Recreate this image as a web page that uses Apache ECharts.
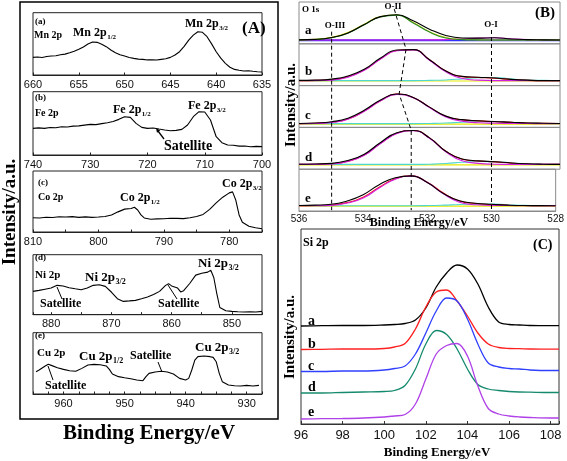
<!DOCTYPE html>
<html><head><meta charset="utf-8">
<script src="https://cdn.jsdelivr.net/npm/echarts@6/dist/echarts.min.js"></script>
<style>html,body{margin:0;padding:0;background:#fff}#c{width:567px;height:461px}</style>
</head><body><div id="c"></div>
<script>
// ---------- Panel A data (XPS 2p spectra) ----------
const mnEnergy = [660,659.5,659,658.5,658,657.5,657,656.5,656,655.5,655,654.5,654,653.5,653,652.5,652,651.5,651,650.5,650,649.5,649,648.5,648,647.5,647,646.5,646,645.5,645,644.5,644,643.5,643,642.5,642,641.5,641,640.5,640,639.5,639,638.5,638,637.5,637,636.5,636,635.5,635];
const mnIntensity = [28.3,28.8,28.0,29.6,30.5,31.0,32.4,33.5,35.8,38.2,41.2,45.0,49.7,52.9,52.4,49.5,45.5,40.2,35.8,32.6,30.5,28.0,26.7,25.5,25.1,24.2,24.6,24.0,25.1,26.0,28.3,32.0,37.4,46.0,56.0,64.0,69.5,68.5,61.5,50.0,37.4,27.0,18.7,12.5,9.0,7.6,6.4,6.9,5.9,5.2,4.8];
const feEnergy = [740,739,738,737,736,735,734,733,732,731,730,729,728,727,726,725,724,723,722,721,720,719,718,717,716,715,714,713,712,711,710,709,708,707,706,705,704,703,702,701,700];
const feIntensity = [42.1,42.8,42.0,43.5,43.0,44.7,44.2,45.6,46.0,47.2,48.4,48.0,49.5,51.0,53.0,56.3,60.5,59.5,50.0,43.7,42.1,42.6,41.0,39.5,38.4,38.9,40.5,47.4,60.5,68.4,67.9,55.3,28.9,19.5,15.8,15.3,14.0,14.2,13.0,13.6,13.2];
const coEnergy = [810,809,808,807,806,805,804,803,802,801,800,799,798,797,796,795,794.5,794,793.5,793,792,791,790,789,788,787,786,785,784,783,782,781,780,779.5,779,778.5,778,777,776,775];
const coIntensity = [23.4,23.0,24.2,23.8,25.0,24.5,25.2,24.0,24.8,23.9,24.5,25.5,28.0,33.0,37.5,38.6,40.5,36.0,28.0,23.0,21.0,21.5,21.7,22.6,22.3,22.0,23.4,25.5,28.8,37.0,47.8,57.1,64.1,65.8,52.0,28.0,16.0,9.5,7.0,5.4];
const niEnergy = [883,882,881,880,879,878,877,876,875,874,873,872,871,870,869,868,867,866,865,864,863,862,861,860.5,860,859,858.5,858,857,856,855,854,853.5,853,852.5,852,851,850,849,848,847,846,845];
const niIntensity = [38.9,40.5,42.5,44.4,48.9,47.8,45.0,43.3,41.7,44.4,48.9,50.0,47.2,37.8,26.7,22.2,23.0,23.9,26.5,29.4,33.5,38.9,48.9,51.7,48.0,44.4,38.0,40.0,52.0,66.0,69.0,71.0,74.0,62.0,35.0,12.0,6.5,5.6,4.8,4.4,5.0,4.6,5.6];
const cuEnergy = [964.5,964,963,962.5,962,961,960,959,958,957,956,955,954,953,952.5,952,951,950,949,948,947,946.5,946,945,944,943,942,941,940,939.5,939,938.5,938,937,936,935.5,935,934.5,934,933,932,931,930,929,928];
const cuIntensity = [36.4,39.1,45.7,48.4,46.7,42.9,40.2,38.0,37.0,41.8,47.3,48.4,47.8,45.7,40.2,32.6,28.3,26.6,25.0,22.8,21.7,28.3,33.7,35.9,37.0,35.9,32.6,25.5,22.8,25.5,39.1,55.4,60.9,62.0,60.9,59.8,52.7,33.7,20.1,14.7,13.5,13.0,14.0,13.0,14.1];

// ---------- Panel B data (O 1s, fitted) ----------
const oxEnergy = [536,535.5,535,534.5,534,533.5,533,532.5,532,531.5,531,530.5,530,529.5,529,528.5,528];
const baseEnergy = [536,528];
const aBlack   = [9.5,10.5,15,26,46,65,69.5,55,35,20,14,13.5,14.5,11.5,10,9.5,9];
const aYellow  = [9.5,10.5,15.5,27,47,65.5,69,51,29,15,10.5,9.5,9.2,9,9,9,9];
const aGreen   = [9.3,10.2,14.5,25.5,45.5,64.5,68.5,50,28,14,10,9.3,9,9,9,9,9];
const aMagenta = [9,9,9,9,9,9,9,9,9.3,10,11.5,13.5,14.5,12,10,9.2,9];
const aBase    = [8.5,8.5];
const bBlack   = [12.5,13,15.5,23,39,66,85,86,62,35,22,20,18,15,13,12,12];
const bRed     = [12,12.5,14,21,37,64,84,86,62,35,21.5,19.5,17.5,14.5,12.5,12,12];
const bMagenta = [12,12,13,20,36.5,63.5,83.5,85.5,60.5,33,17,13,12,12,12,12,12];
const bCyan    = [12,12,12,12,12,12,12,12,12.5,13.5,16,19,19.5,16,13.5,12.5,12];
const bBase    = [11,11];
const cBlack   = [9.5,10.5,13.5,22,41,65.5,80,71.5,48.5,27,18.5,16,14,12.5,10.5,10,9.5];
const cRed     = [9,10,12.5,20,39,64,79.5,71.5,48.5,26.5,18,15.5,13.5,12,10.5,9.8,9.5];
const cMagenta = [9,9.5,12,19.5,38.5,63.5,79,71,47.5,25,15,11,10,9.5,9.2,9,9];
const cCyan    = [9,9,9,9,9,9,9,9,9.5,10.5,12.5,14,13.5,12,10.5,9.5,9];
const cBase    = [8,8];
const dBlack   = [12,12.5,14,21,36,64,87,92.5,75,43,24.5,20,18,15,13,12,11.5];
const dRed     = [11.5,12,13,19,34,62,86,92.5,75,43,24,19.5,17.5,14.5,12.5,11.8,11.5];
const dMagenta = [11.5,11.5,12.5,18.5,33.5,61.5,85.5,92,74,41.5,20,14,12,11.5,11.5,11.5,11.5];
const dCyan    = [11.5,11.5,11.5,11.5,11.5,11.5,11.5,11.5,12,13.5,16.5,18.5,18,15,13,12,11.5];
const dBase    = [10.5,10.5];
const eBlack   = [13,14,16,24,39,63,79.5,84,68,42,24.5,18.5,16,14,13,12.8,12.6];
const eRed     = [12.6,13,14.5,20,33,57,77,84,69,43,24,18,15.5,13.8,13,12.7,12.6];
const eMagenta = [12.6,12.8,13.5,19,31,55,76,83.5,68,41,21,15,13.5,13,12.7,12.6,12.6];
const eCyan    = [12.6,12.6,12.6,12.6,12.6,12.6,12.6,12.6,13,14,15.5,16.5,16.5,15,13.5,12.8,12.6];
const eBase    = [11.5,11.5];
// guide lines (energy, stack level 0..5)
const oIIIEnergy = [535.0,535.0], oIIILevel = [4.29,0.02];
const oIEnergy = [530.1,530.1],   oILevel = [4.33,0.02];
const oIIEnergy = [533.08,532.72,532.93,532.56,532.56], oIILevel = [4.83,3.87,2.8,1.93,0.02];

// ---------- Panel C data (Si 2p) ----------
const siEnergy = [96,97,98,99,100,100.5,101,101.5,102,102.5,103,103.5,104,104.5,105,105.5,106,106.5,107,108,108.4];
const siA = [98,98.3,98.5,98.5,99,99.5,100.5,104,116,137,151,159,155,140,117,102,99.5,99,98.5,98.3,98.3];
const siB = [74.5,74.7,75,75,75.5,77,80.5,95,117,132,134,123,108,91,80,76.5,75.5,75.3,75,74.8,74.8];
const siC = [52.5,52.5,53,53,54,55.5,58,70,91,113,126,123,105,80,61,57,55.5,55,54,53.5,53.5];
const siD = [31,31,31.5,32,32.5,33.5,38.5,55,80,93.5,89.5,75,55,39.5,35,33.5,32.5,32,31.8,31.5,31.5];
const siE = [5,5.3,5.5,6,7,8,9.5,20,45,70,78.5,80.5,68,38,15.5,10,8,7,6.5,6,6];

// ---------- helpers ----------
function pairs(xs, ys){ const n=Math.min(xs.length, ys.length), o=[]; for(let i=0;i<n;i++) o.push([xs[i], ys[i]]); return o; }
const SERIF = '"Liberation Serif","Times New Roman",serif';
const SANS = '"Liberation Sans",Arial,sans-serif';
const grids=[], xAxes=[], yAxes=[], series=[], graphics=[];
function addGrid(g, xa, ya){ grids.push(g); const i=grids.length-1; xAxes.push(Object.assign({gridIndex:i, type:'value', splitLine:{show:false}}, xa)); yAxes.push(Object.assign({gridIndex:i, type:'value', show:false, splitLine:{show:false}}, ya)); return i; }
function line(i, data, color, width, smooth, z, dash){ series.push({type:'line', xAxisIndex:i, yAxisIndex:i, data, symbol:'none', showSymbol:false, smooth: smooth||false, silent:true, animation:false, z: z||2, lineStyle:{color, width, type: dash||'solid'}}); }
const mctx = document.createElement('canvas').getContext('2d');
function tw(t, size){ mctx.font = 'bold '+size+'px '+SERIF; return mctx.measureText(t).width; }
function txt(x, y, t, size, align, rot){ graphics.push({type:'text', x, y, rotation: rot||0, z:100, style:{text:t, font:'bold '+size+'px '+SERIF, fill:'#000', align: align||'left', verticalAlign:'middle'}}); }
function sub(x, y, main, s, size){ txt(x, y, main, size); const ss=Math.round(size*0.62); graphics.push({type:'text', x: x+tw(main,size)+0.5, y: y+size*0.32, z:100, style:{text:s, font:'bold '+ss+'px '+SERIF, fill:'#000', align:'left', verticalAlign:'middle'}}); }
function seg(x1,y1,x2,y2,w){ graphics.push({type:'line', z:100, shape:{x1,y1,x2,y2}, style:{stroke:'#000', lineWidth:w||1}}); }

// ---------- Panel A grids ----------
const aPanels = [
  {top:12.7, h:62.3, min:635, max:660, interval:5, every:5, x:mnEnergy, y:mnIntensity},
  {top:91.7, h:63.3, min:700, max:740, interval:10, every:10, x:feEnergy, y:feIntensity},
  {top:171,  h:61,   min:775, max:810, interval:5, every:10, x:coEnergy, y:coIntensity},
  {top:254.7,h:60,   min:845, max:883, interval:5, every:10, x:niEnergy, y:niIntensity},
  {top:332.7,h:61.3, min:927.5, max:965, interval:2.5, every:10, x:cuEnergy, y:cuIntensity}
];
aPanels.forEach(p=>{
  const i = addGrid({left:33, top:p.top, width:229, height:p.h, show:true, borderColor:'#222', borderWidth:1},
    {inverse:true, min:p.min, max:p.max, interval:p.interval,
     axisLine:{show:true, onZero:false, lineStyle:{color:'#222', width:1}},
     axisTick:{show:true, inside:true, length:2.5, lineStyle:{color:'#222'}},
     axisLabel:{fontFamily:SANS, fontSize:11, color:'#111', margin:4,
       formatter: v => (Math.abs(v % p.every) < 1e-6 ? String(v) : '')}},
    {min:0, max:100});
  line(i, pairs(p.x, p.y), '#000', 1.1, false, 3);
});

// ---------- Panel B grids ----------
const bSets = [
  [[aBase,'#3030ff',1.8,true],[aMagenta,'#e020e0'],[aYellow,'#d8d800'],[aGreen,'#2a8a2a'],[aBlack,'#000']],
  [[bBase,'#e8e800',1.2,true],[bCyan,'#50d8d0'],[bRed,'#ff1010'],[bMagenta,'#d020e0'],[bBlack,'#000']],
  [[cBase,'#e8e800',1.2,true],[cCyan,'#50d8d0'],[cRed,'#ff1010'],[cMagenta,'#d020e0'],[cBlack,'#000']],
  [[dBase,'#e8e800',1.2,true],[dCyan,'#50d8d0'],[dRed,'#ff1010'],[dMagenta,'#d020e0'],[dBlack,'#000']],
  [[eBase,'#e8e800',1.2,true],[eCyan,'#50d8d0'],[eRed,'#ff1010'],[eMagenta,'#d020e0'],[eBlack,'#000']]
];
bSets.forEach((set, k)=>{
  const last = k===4;
  const i = addGrid({left:299, top:2+k*41.8, width:261, height:41.8, show:true, borderColor:'#8a8a8a', borderWidth:1},
    {inverse:true, min:528, max:536, interval:2,
     axisLine:{show:last, onZero:false, lineStyle:{color:'#8a8a8a'}},
     axisTick:{show:false},
     axisLabel:{show:last, fontFamily:SANS, fontSize:10, color:'#111', margin:3}},
    {min:0, max:100});
  set.forEach(s=>{
    const xs = s[3] ? baseEnergy : oxEnergy;
    line(i, pairs(xs, s[0]), s[1], s[2]||1.1, true, 3);
  });
});
// overlay for dashed guides
const ov = addGrid({left:299, top:2, width:261, height:209, show:false},
  {inverse:true, min:528, max:536, show:false}, {min:0, max:5});
line(ov, pairs(oIIIEnergy, oIIILevel), '#000', 1, false, 5, [4,3]);
line(ov, pairs(oIEnergy, oILevel), '#000', 1, false, 5, [4,3]);
line(ov, pairs(oIIEnergy, oIILevel), '#000', 1, false, 5, [4,3]);

// ---------- Panel C grid ----------
const ci = addGrid({left:301, top:229, width:258, height:195, show:true, borderColor:'#333', borderWidth:1},
  {min:96, max:108.4, interval:2,
   axisLine:{show:true, onZero:false, lineStyle:{color:'#333'}},
   axisTick:{show:true, inside:true, length:3, lineStyle:{color:'#333'}},
   axisLabel:{fontFamily:SANS, fontSize:13, color:'#111', margin:5,
     formatter: v => (Math.abs(v % 2) < 1e-6 ? String(v) : '')}},
  {min:0, max:195});
[[siA,'#000'],[siB,'#ff2020'],[siC,'#3040ff'],[siD,'#168a6e'],[siE,'#b040e8']].forEach(s=>{
  line(ci, pairs(siEnergy, s[0]), s[1], 1.3, 0.35, 3);
});

// ---------- annotations ----------
graphics.push({type:'rect', z:100, shape:{x:20, y:2, width:258, height:417}, style:{fill:'none', stroke:'#000', lineWidth:1.5}});
txt(10, 212, 'Intensity/a.u.', 19, 'center', Math.PI/2);
txt(149, 434, 'Binding Energy/eV', 21, 'center');
// (a)
txt(35, 22, '(a)', 9); txt(34, 35, 'Mn 2p', 10);
sub(73, 33, 'Mn 2p', '1/2', 12); sub(185, 24, 'Mn 2p', '3/2', 12);
txt(242, 29, '(A)', 17);
// (b)
txt(35, 98, '(b)', 9); txt(35, 113, 'Fe 2p', 10);
sub(113, 110, 'Fe 2p', '1/2', 12); sub(188, 106, 'Fe 2p', '3/2', 12);
txt(164, 146, 'Satellite', 14);
seg(164, 139, 158, 131, 1.3);
graphics.push({type:'polygon', z:100, shape:{points:[[156,128],[160.2,130.6],[157,132.8]]}, style:{fill:'#000'}});
// (c)
txt(38, 183, '(c)', 9); txt(38, 197, 'Co 2p', 10);
sub(120, 198, 'Co 2p', '1/2', 12); sub(222, 184, 'Co 2p', '3/2', 12);
// (d)
txt(35, 258, '(d)', 9); txt(35, 275, 'Ni 2p', 11);
sub(85, 278, 'Ni 2p', '3/2', 13); sub(198, 264, 'Ni 2p', '3/2', 13);
txt(40, 304, 'Satellite', 12); seg(62, 299, 57, 287, 1);
txt(158, 304, 'Satellite', 12); seg(177, 299, 168, 285, 1);
// (e)
txt(35, 336, '(e)', 9); txt(37, 353, 'Cu 2p', 11);
txt(45, 386, 'Satellite', 12); seg(53, 380, 48, 366, 1);
sub(79, 357, 'Cu 2p', '1/2', 13);
txt(130, 356, 'Satellite', 12); seg(158, 362, 162, 372, 1);
sub(195, 348, 'Cu 2p', '3/2', 13);
// Panel B
txt(302, 10, 'O 1s', 9); txt(393, 7, 'O-II', 9, 'center'); txt(335, 26, 'O-III', 9, 'center'); txt(491, 25, 'O-I', 9, 'center');
txt(535, 13, '(B)', 15);
txt(305, 31, 'a', 13); txt(305, 72, 'b', 13); txt(305, 116, 'c', 13); txt(305, 158, 'd', 13); txt(305, 199, 'e', 13);
txt(291, 105, 'Intensity/a.u.', 15, 'center', Math.PI/2);
txt(419, 223, 'Binding Energy/eV', 12, 'center');
// Panel C
txt(303, 243, 'Si 2p', 12); txt(533, 245, '(C)', 14);
txt(308, 321, 'a', 14); txt(308, 344, 'b', 14); txt(308, 366, 'c', 14); txt(308, 387, 'd', 14); txt(308, 412, 'e', 14);
txt(290, 337, 'Intensity/a.u.', 15, 'center', Math.PI/2);
txt(437, 453, 'Binding Energy/eV', 13, 'center');

const chart = echarts.init(document.getElementById('c'), null, {renderer:'canvas', width:567, height:461});
chart.setOption({animation:false, backgroundColor:'#fff', grid:grids, xAxis:xAxes, yAxis:yAxes, series, graphic:{elements:graphics}});
</script></body></html>
